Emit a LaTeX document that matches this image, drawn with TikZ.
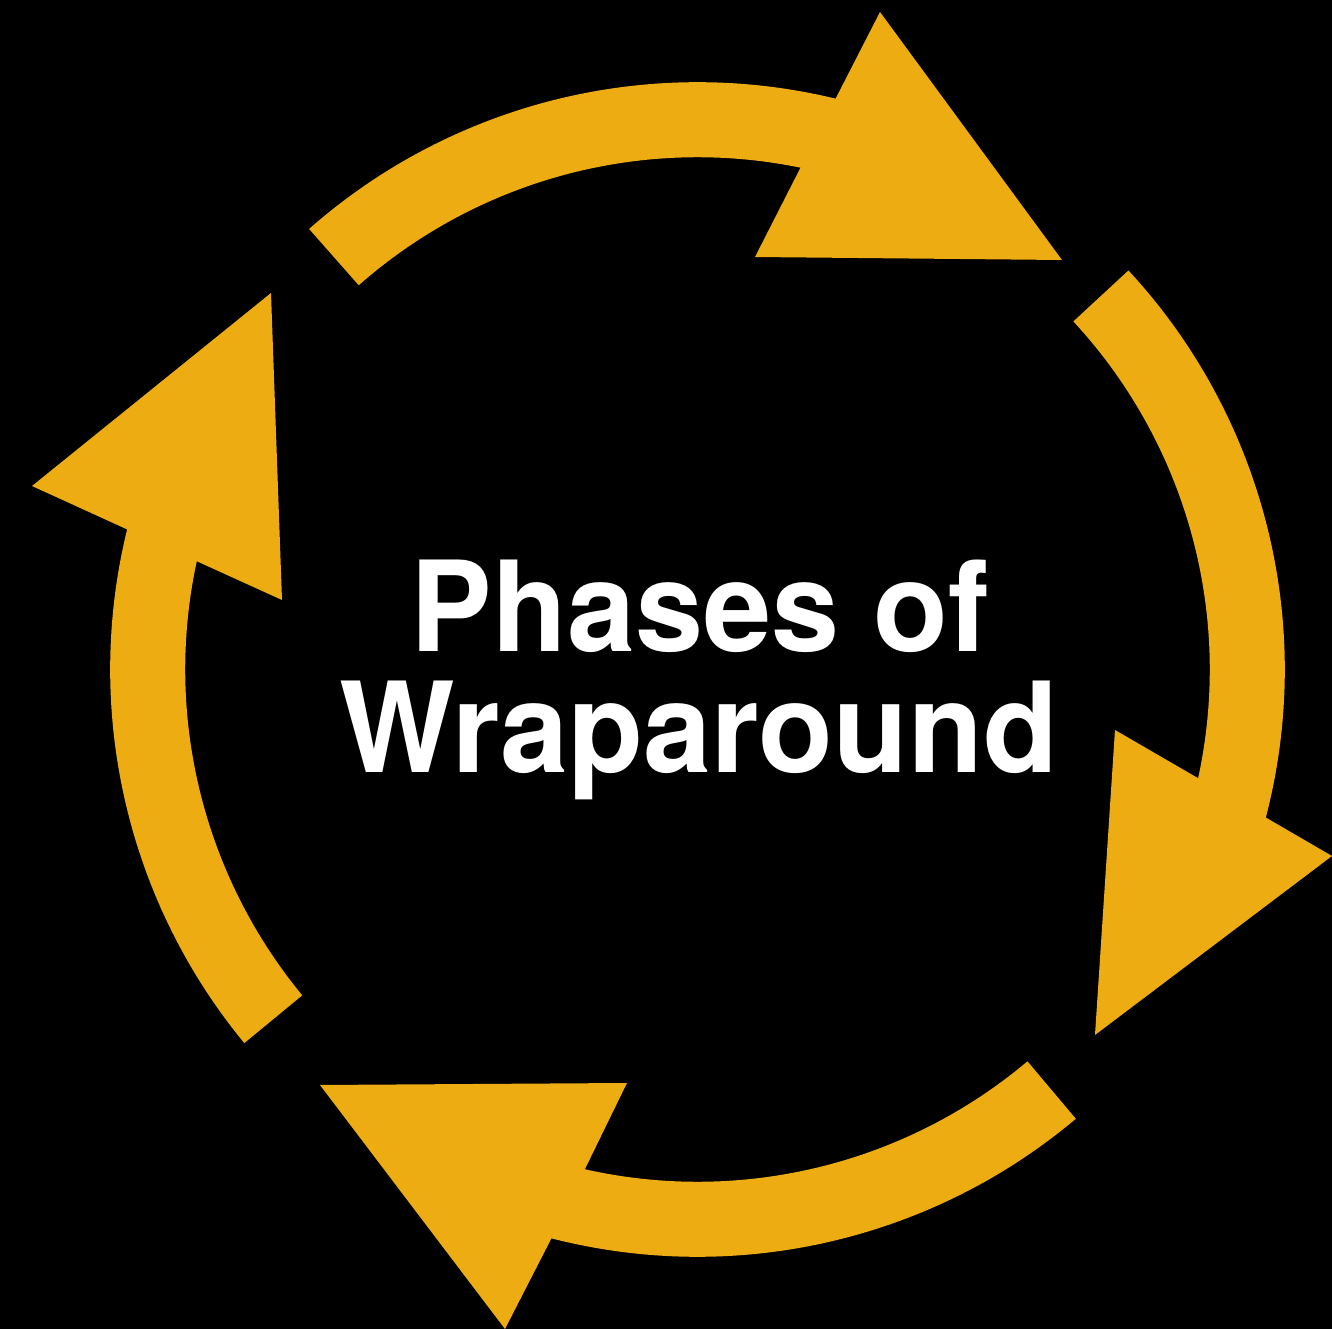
\documentclass[tikz,border=0pt]{standalone}
\usepackage{fontspec}
\setsansfont[FakeStretch=0.975]{TeX Gyre Heros}
\usetikzlibrary{calc}
\definecolor{gold}{RGB}{236,172,18}
\begin{document}
\begin{tikzpicture}[x=0.01cm,y=0.01cm,
  arrowfill/.style={fill=gold},
  title/.style={text=white, font=\sffamily\bfseries\fontsize{35.7}{34.7}\selectfont, inner sep=0pt, anchor=base}]
\fill[black] (0,0) rectangle (1332,1329);
\useasboundingbox (0,0) rectangle (1332,1329);
\coordinate (C) at (697.5,659.5);
% top arrow
\path[arrowfill] ($(C)+(131.4:5.87cm)$) arc[start angle=131.4, end angle=76.4, radius=5.87cm]
  -- (880,1317) -- (1062,1069) -- (755,1072) -- ($(C)+(78.4:5.12cm)$)
  arc[start angle=78.4, end angle=131.4, radius=5.12cm] -- cycle;
% right arrow
\path[arrowfill] ($(C)+(42.8:5.87cm)$) arc[start angle=42.8, end angle=-14.6, radius=5.87cm]
  -- (1332,473) -- (1095,294) -- (1115,599) -- ($(C)+(-12.25:5.12cm)$)
  arc[start angle=-12.25, end angle=42.8, radius=5.12cm] -- cycle;
% bottom arrow
\path[arrowfill] ($(C)+(-49.9:5.87cm)$) arc[start angle=-49.9, end angle=-104.4, radius=5.87cm]
  -- (505,0) -- (320,244) -- (627,246) -- ($(C)+(-102.7:5.12cm)$)
  arc[start angle=-102.7, end angle=-49.9, radius=5.12cm] -- cycle;
% left arrow
\path[arrowfill] ($(C)+(219.5:5.87cm)$) arc[start angle=219.5, end angle=166.2, radius=5.87cm]
  -- (32,843) -- (271,1036) -- (282,729) -- ($(C)+(167.8:5.12cm)$)
  arc[start angle=167.8, end angle=219.5, radius=5.12cm] -- cycle;
\node[title] (l1) at (700,677) {Phases of};
\node[title] (l2) at (699,556) {Wraparound};
\end{tikzpicture}
\end{document}
